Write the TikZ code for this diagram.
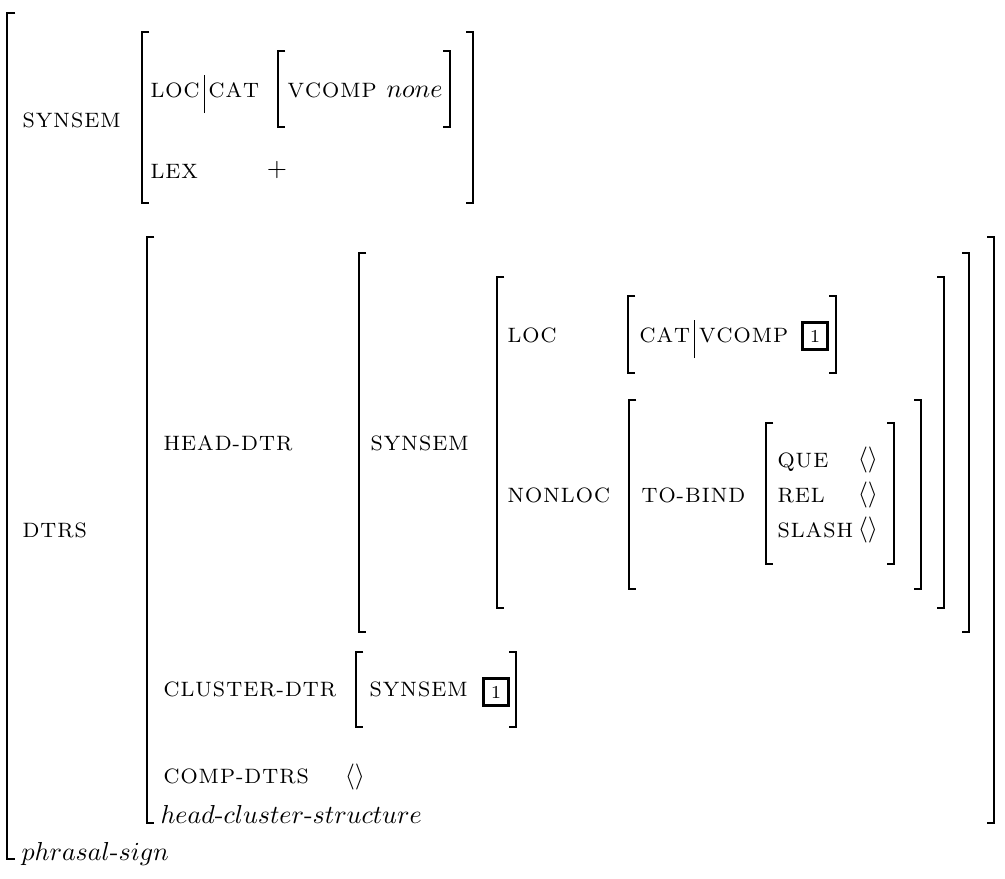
\documentclass[tikz,border=0pt]{standalone}
% letter-spaced feature names
\def\spc#1{\spcx#1\relax}
\def\spcx#1{\ifx\relax#1\else#1\kern0.4pt\expandafter\spcx\fi}
\begin{document}
\begin{tikzpicture}[x=0.3846pt, y=-0.3846pt,
    brk/.style={line width=0.4pt},
    brkend/.style={line width=0.8pt},
    feat/.style={anchor=base west, inner sep=0pt, font=\fontsize{8}{10}\selectfont},
    sort/.style={anchor=base west, inner sep=0pt},
    val/.style={inner sep=0pt},
    tag/.style={draw, line width=0.8pt, inner sep=0pt, minimum width=9.6pt, minimum height=10.4pt, font=\scriptsize}]

  \useasboundingbox (0,0) rectangle (1005,878);

  % brackets: left x / right x / top / bottom
  \foreach \xl/\xr/\yt/\yb in {142/473/32/203, 278/450/51/127, 147/994/237/823, 359/969/253/632,
      497/944/277/608, 628/836/296/373, 629/921/400/589, 766/894/423/564, 356/516/652/727} {
      \pgfmathsetmacro{\e}{min(40,(\yb-\yt)/2)}
      \draw[brk] (\xl+7,\yt) -- (\xl,\yt) -- (\xl,\yb) -- (\xl+7,\yb);
      \draw[brk] (\xr-7,\yt) -- (\xr,\yt) -- (\xr,\yb) -- (\xr-7,\yb);
      \draw[brkend] (\xl+7,\yt) -- (\xl,\yt) -- (\xl,\yt+\e);
      \draw[brkend] (\xl,\yb-\e) -- (\xl,\yb) -- (\xl+7,\yb);
      \draw[brkend] (\xr-7,\yt) -- (\xr,\yt) -- (\xr,\yt+\e);
      \draw[brkend] (\xr,\yb-\e) -- (\xr,\yb) -- (\xr-7,\yb);
    }

  % outer bracket, no right side
  \draw[brk] (15,13) -- (7,13) -- (7,859) -- (15,859);
  \draw[brkend] (15,13) -- (7,13) -- (7,53);
  \draw[brkend] (7,819) -- (7,859) -- (15,859);

  % top synsem
  \node[feat] (syn1) at (22,127) {\spc{SYNSEM}};
  \node[feat] (loc1) at (150,97) {\spc{LOC}};
  \draw[brk] ([shift={(3,16)}]loc1.base east) -- ++(0,-38);
  \node[feat] (cat1) at ([shift={(7,0)}]loc1.base east) {\spc{CAT}};
  \node[feat] (vcomp1) at (287,97) {\spc{VCOMP}};
  \node[sort] (none1) at ([xshift=3pt]vcomp1.base east) {$none$};
  \node[feat] (lex) at (150,178) {\spc{LEX}};
  \node[val] (plus) at (277,170) {$+$};

  % daughters
  \node[feat] (dtrs) at (22,537) {\spc{DTRS}};
  \node[feat] (headdtr) at (163,450) {\spc{HEAD-DTR}};
  \node[feat] (syn2) at (370,450) {\spc{SYNSEM}};
  \node[feat] (loc2) at (507,342) {\spc{LOC}};
  \node[feat] (cat2) at (639,342) {\spc{CAT}};
  \draw[brk] ([shift={(3,16)}]cat2.base east) -- ++(0,-38);
  \node[feat] (vcomp2) at ([shift={(7,0)}]cat2.base east) {\spc{VCOMP}};
  \node[tag] (tag1) at (815,336) {1};
  \node[feat] (nonloc) at (507,502) {\spc{NONLOC}};
  \node[feat] (tobind) at (641,502) {\spc{TO-BIND}};
  \node[feat] (que) at (777,467) {\spc{QUE}};
  \node[feat] (rel) at (777,502) {\spc{REL}};
  \node[feat] (slash) at (777,537) {\spc{SLASH}};
  \node[val] (quev) at (868,460) {$\langle\rangle$};
  \node[val] (relv) at (868,495) {$\langle\rangle$};
  \node[val] (slashv) at (868,530) {$\langle\rangle$};

  \node[feat] (cldtr) at (163,696) {\spc{CLUSTER-DTR}};
  \node[feat] (syn3) at (369,696) {\spc{SYNSEM}};
  \node[tag] (tag2) at (496,692) {1};
  \node[feat] (compdtrs) at (163,783) {\spc{COMP-DTRS}};
  \node[val] (compv) at (355,777) {$\langle\rangle$};

  % sorts
  \node[sort] (hcs) at (160,823) {$head\mbox{-}cluster\mbox{-}structure$};
  \node[sort] (psign) at (21,860) {$phrasal\mbox{-}sign$};
\end{tikzpicture}
\end{document}
